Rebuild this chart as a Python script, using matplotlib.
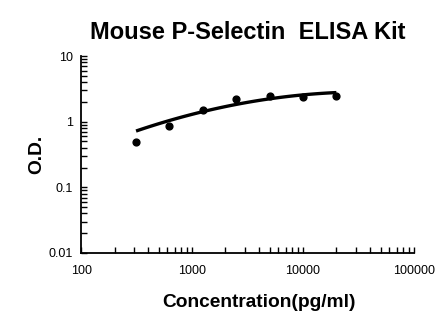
import numpy as np
import matplotlib.pyplot as plt
from matplotlib.ticker import LogLocator, NullFormatter

plt.rcParams['font.family'] = ['Liberation Sans', 'DejaVu Sans']

conc = [312.5, 625, 1250, 2500, 5000, 10000, 20000]
od = [0.49, 0.86, 1.50, 2.18, 2.43, 2.40, 2.45]

# fitted curve
fit_conc = [312.5, 625, 1250, 2500, 5000, 10000, 20000]
fit_od = [0.70, 1.08, 1.45, 1.83, 2.18, 2.50, 2.85]

# smooth the read curve in log-log space
coef = np.polyfit(np.log10(fit_conc), np.log10(fit_od), 2)
xs = np.logspace(np.log10(fit_conc[0]), np.log10(fit_conc[-1]), 100)
ys = 10 ** np.polyval(coef, np.log10(xs))

fig = plt.figure(figsize=(4.46, 3.26), dpi=100)
ax = fig.add_axes([0.182, 0.224, 0.746, 0.604])

ax.plot(xs, ys, color='black', lw=2.4, solid_capstyle='butt')
ax.scatter(conc, od, s=24, color='black', zorder=3)

ax.set_xscale('log')
ax.set_yscale('log')
ax.set_xlim(100, 100000)
ax.set_ylim(0.01, 10)

ax.set_xticks([100, 1000, 10000, 100000])
ax.set_xticklabels(['100', '1000', '10000', '100000'])
ax.set_yticks([0.01, 0.1, 1, 10])
ax.set_yticklabels(['0.01', '0.1', '1', '10'])
ax.xaxis.set_minor_locator(LogLocator(base=10, subs=np.arange(2, 10)))
ax.yaxis.set_minor_locator(LogLocator(base=10, subs=np.arange(2, 10)))
ax.xaxis.set_minor_formatter(NullFormatter())
ax.yaxis.set_minor_formatter(NullFormatter())

ax.tick_params(which='both', direction='in', length=4, width=1, labelsize=9)
ax.tick_params(axis='x', pad=9)
ax.tick_params(axis='y', pad=6)

for side in ['top', 'right']:
    ax.spines[side].set_visible(False)
for side in ['left', 'bottom']:
    ax.spines[side].set_linewidth(1.3)

ax.set_title('Mouse P-Selectin  ELISA Kit', fontsize=17, fontweight='bold', pad=12)
ax.set_xlabel('Concentration(pg/ml)', fontsize=13.8, fontweight='bold',
              labelpad=12, x=0.535)
ax.set_ylabel('O.D.', fontsize=13.8, fontweight='bold', labelpad=2)

fig.savefig('out.png', dpi=100)
